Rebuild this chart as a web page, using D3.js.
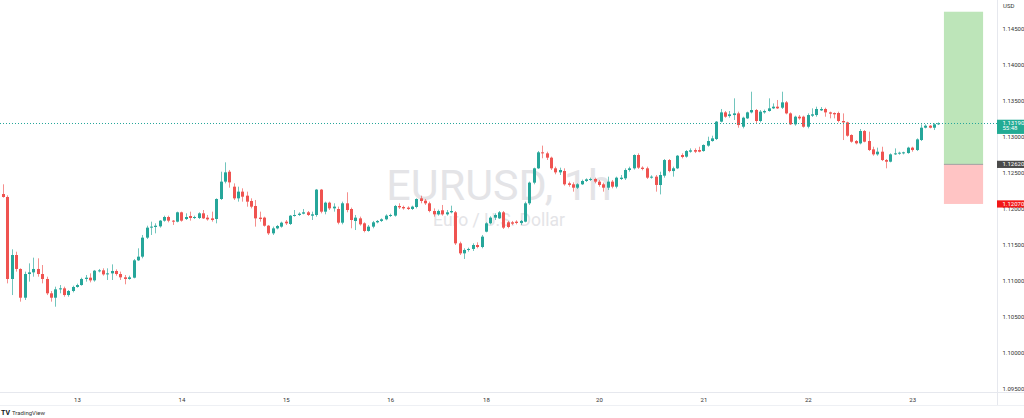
<!DOCTYPE html>
<html><head><meta charset="utf-8">
<script src="https://cdn.jsdelivr.net/npm/d3@7"></script>
<style>html,body{margin:0;padding:0;background:#fff;overflow:hidden}svg{display:block}text{font-family:Roboto,"Liberation Sans",Arial,sans-serif}</style>
</head><body><svg id="c" width="1024" height="418"></svg>
<script>
const opens=[1.12208,1.12167,1.11028,1.11361,1.11167,1.10768,1.11097,1.11120,1.11167,1.11097,
1.11028,1.10829,1.10768,1.10884,1.10898,1.10805,1.10861,1.10917,1.10944,1.11028,
1.11046,1.11009,1.11143,1.11148,1.11092,1.11106,1.11139,1.11097,1.11051,1.11028,
1.11046,1.11287,1.11338,1.11602,1.11741,1.11750,1.11759,1.11838,1.11889,1.11838,
1.11824,1.11954,1.11861,1.11903,1.11875,1.11875,1.11940,1.11880,1.11870,1.11861,
1.12139,1.12380,1.12518,1.12310,1.12148,1.12241,1.12185,1.12111,1.12042,1.11880,
1.11880,1.11768,1.11662,1.11731,1.11755,1.11824,1.11792,1.11903,1.11917,1.11935,
1.11954,1.11907,1.11917,1.12269,1.11963,1.12088,1.12009,1.12000,1.11810,1.12079,
1.12000,1.11833,1.11870,1.11801,1.11695,1.11755,1.11815,1.11834,1.11857,1.11908,
1.11908,1.12042,1.12028,1.12019,1.12000,1.12028,1.12148,1.12116,1.12079,1.11972,
1.11926,1.11982,1.11926,1.11954,1.11954,1.11523,1.11384,1.11431,1.11445,1.11500,
1.11472,1.11685,1.11801,1.11880,1.11870,1.11954,1.11815,1.11815,1.11824,1.11806,
1.11824,1.12079,1.12366,1.12565,1.12787,1.12773,1.12713,1.12565,1.12509,1.12528,
1.12357,1.12343,1.12296,1.12343,1.12389,1.12412,1.12417,1.12380,1.12343,1.12296,
1.12380,1.12310,1.12417,1.12426,1.12542,1.12565,1.12750,1.12574,1.12565,1.12435,
1.12449,1.12333,1.12463,1.12680,1.12527,1.12565,1.12750,1.12727,1.12796,1.12819,
1.12819,1.12805,1.12880,1.12944,1.12972,1.13213,1.13342,1.13291,1.13305,1.13328,
1.13143,1.13259,1.13342,1.13375,1.13222,1.13342,1.13361,1.13398,1.13421,1.13407,
1.13481,1.13328,1.13176,1.13282,1.13282,1.13143,1.13296,1.13305,1.13370,1.13389,
1.13342,1.13333,1.13333,1.13222,1.13203,1.13028,1.12944,1.12912,1.13083,1.12944,
1.12828,1.12759,1.12796,1.12680,1.12657,1.12759,1.12768,1.12773,1.12777,1.12852,
1.12819,1.12958,1.13129,1.13157,1.13129,1.13176];
const highs=[1.12343,1.12190,1.11440,1.11407,1.11176,1.11130,1.11245,1.11324,1.11315,1.11222,
1.11060,1.10861,1.10921,1.10944,1.10921,1.10875,1.10935,1.10963,1.11046,1.11083,
1.11106,1.11153,1.11167,1.11176,1.11176,1.11231,1.11162,1.11130,1.11083,1.11074,
1.11305,1.11454,1.11639,1.11768,1.11824,1.11801,1.11847,1.11907,1.11907,1.11847,
1.11963,1.11963,1.11940,1.11963,1.11907,1.11954,1.11986,1.11917,1.11963,1.12148,
1.12518,1.12648,1.12542,1.12356,1.12310,1.12287,1.12241,1.12148,1.12125,1.11963,
1.11893,1.11778,1.11755,1.11778,1.11824,1.11847,1.11917,1.11986,1.11954,1.12000,
1.11972,1.11963,1.12278,1.12278,1.12102,1.12102,1.12079,1.12033,1.12102,1.12232,
1.12019,1.11917,1.11894,1.11815,1.11778,1.11834,1.11847,1.11870,1.11926,1.11935,
1.12056,1.12079,1.12046,1.12037,1.12046,1.12148,1.12185,1.12139,1.12102,1.12009,
1.11991,1.12056,1.11986,1.12046,1.11972,1.11546,1.11454,1.11463,1.11523,1.11537,
1.11639,1.11815,1.11898,1.11940,1.11972,1.11972,1.11834,1.11834,1.11843,1.11847,
1.12102,1.12380,1.12574,1.12806,1.12880,1.12796,1.12727,1.12588,1.12574,1.12565,
1.12380,1.12370,1.12357,1.12408,1.12426,1.12435,1.12435,1.12403,1.12366,1.12449,
1.12403,1.12449,1.12472,1.12565,1.12588,1.12759,1.12773,1.12593,1.12588,1.12468,
1.12472,1.12518,1.12694,1.12694,1.12588,1.12750,1.12773,1.12819,1.12842,1.12842,
1.12865,1.12898,1.13004,1.13018,1.13222,1.13389,1.13361,1.13361,1.13537,1.13352,
1.13282,1.13352,1.13629,1.13389,1.13375,1.13380,1.13537,1.13467,1.13514,1.13629,
1.13500,1.13342,1.13296,1.13305,1.13296,1.13328,1.13398,1.13421,1.13416,1.13407,
1.13352,1.13342,1.13352,1.13328,1.13213,1.13037,1.12958,1.13111,1.13097,1.13074,
1.12865,1.12852,1.12865,1.12694,1.12773,1.12842,1.12796,1.12796,1.12865,1.12865,
1.12981,1.13176,1.13176,1.13166,1.13190,1.13203];
const lows=[1.12157,1.10967,1.10805,1.11130,1.10713,1.10736,1.10991,1.11060,1.11060,1.10967,
1.10805,1.10713,1.10643,1.10829,1.10782,1.10782,1.10842,1.10907,1.10935,1.10991,
1.10981,1.10991,1.11120,1.11074,1.11014,1.11014,1.11074,1.11014,1.10954,1.11018,
1.11037,1.11278,1.11315,1.11583,1.11639,1.11662,1.11741,1.11824,1.11815,1.11778,
1.11815,1.11824,1.11847,1.11838,1.11861,1.11861,1.11861,1.11838,1.11824,1.11801,
1.12125,1.12356,1.12296,1.12125,1.12102,1.12102,1.12032,1.12009,1.11755,1.11824,
1.11755,1.11639,1.11639,1.11718,1.11741,1.11778,1.11778,1.11893,1.11903,1.11926,
1.11903,1.11847,1.11893,1.11940,1.11926,1.11986,1.11963,1.11787,1.11787,1.11954,
1.11732,1.11708,1.11769,1.11676,1.11685,1.11732,1.11801,1.11820,1.11843,1.11889,
1.11894,1.12000,1.11991,1.11986,1.11986,1.12009,1.12079,1.12056,1.11954,1.11894,
1.11908,1.11908,1.11908,1.11940,1.11500,1.11361,1.11306,1.11408,1.11417,1.11454,
1.11454,1.11676,1.11787,1.11847,1.11861,1.11722,1.11732,1.11778,1.11787,1.11778,
1.11815,1.12056,1.12343,1.12556,1.12704,1.12681,1.12542,1.12482,1.12472,1.12324,
1.12310,1.12241,1.12278,1.12334,1.12375,1.12389,1.12357,1.12310,1.12241,1.12264,
1.12287,1.12287,1.12403,1.12403,1.12519,1.12547,1.12556,1.12537,1.12417,1.12421,
1.12241,1.12203,1.12435,1.12509,1.12449,1.12555,1.12703,1.12713,1.12782,1.12777,
1.12787,1.12796,1.12865,1.12935,1.12958,1.13203,1.13268,1.13268,1.13236,1.13129,
1.13120,1.13250,1.13328,1.13190,1.13203,1.13324,1.13352,1.13389,1.13389,1.13389,
1.13315,1.13166,1.13157,1.13240,1.13129,1.13120,1.13278,1.13282,1.13361,1.13282,
1.13259,1.13259,1.13203,1.12958,1.13004,1.12921,1.12898,1.12898,1.12926,1.12805,
1.12740,1.12740,1.12666,1.12565,1.12648,1.12750,1.12754,1.12759,1.12768,1.12796,
1.12805,1.12944,1.13120,1.13120,1.13097,1.13166];
const closes=[1.12167,1.11028,1.11361,1.11167,1.10768,1.11097,1.11120,1.11167,1.11097,1.11028,
1.10829,1.10768,1.10884,1.10898,1.10805,1.10861,1.10917,1.10944,1.11028,1.11046,
1.11009,1.11143,1.11148,1.11092,1.11106,1.11139,1.11097,1.11051,1.11028,1.11051,
1.11287,1.11338,1.11602,1.11741,1.11755,1.11768,1.11838,1.11889,1.11838,1.11824,
1.11954,1.11838,1.11889,1.11875,1.11889,1.11940,1.11870,1.11856,1.11847,1.12139,
1.12380,1.12509,1.12370,1.12148,1.12241,1.12171,1.12102,1.12032,1.11870,1.11861,
1.11768,1.11662,1.11731,1.11764,1.11810,1.11801,1.11907,1.11917,1.11935,1.11954,
1.11917,1.11926,1.12269,1.11963,1.12088,1.12009,1.12033,1.11810,1.12079,1.11986,
1.11847,1.11880,1.11787,1.11695,1.11755,1.11815,1.11834,1.11857,1.11908,1.11917,
1.12042,1.12023,1.12009,1.12000,1.12033,1.12139,1.12111,1.12079,1.11972,1.11926,
1.11972,1.11926,1.11954,1.11972,1.11523,1.11384,1.11431,1.11445,1.11500,1.11472,
1.11616,1.11801,1.11880,1.11917,1.11954,1.11741,1.11750,1.11796,1.11806,1.11834,
1.12079,1.12366,1.12565,1.12787,1.12773,1.12713,1.12565,1.12509,1.12542,1.12343,
1.12334,1.12296,1.12343,1.12389,1.12412,1.12417,1.12380,1.12334,1.12296,1.12380,
1.12310,1.12435,1.12435,1.12542,1.12565,1.12750,1.12574,1.12556,1.12435,1.12449,
1.12334,1.12472,1.12680,1.12527,1.12565,1.12740,1.12722,1.12805,1.12815,1.12796,
1.12796,1.12889,1.12944,1.12981,1.13213,1.13342,1.13282,1.13315,1.13328,1.13166,
1.13268,1.13342,1.13375,1.13222,1.13352,1.13361,1.13398,1.13421,1.13398,1.13481,
1.13328,1.13176,1.13282,1.13259,1.13143,1.13305,1.13315,1.13389,1.13389,1.13342,
1.13324,1.13315,1.13222,1.13203,1.13018,1.12935,1.12912,1.13083,1.12935,1.12819,
1.12759,1.12796,1.12680,1.12657,1.12759,1.12773,1.12782,1.12787,1.12852,1.12819,
1.12967,1.13129,1.13157,1.13129,1.13176,1.13190];
const dayLabels=["13","14","15","16","18","20","21","22","23"];
const dayIndex=[17,41,65,89,111,137,161,185,209];
const priceTicks=[1.145,1.14,1.135,1.13,1.125,1.12,1.115,1.11,1.105,1.10,1.095];
const lastPrice=1.1319, countdown="55:48";
const entryPrice=1.1262, targetPrice=1.1474, stopPrice=1.1207;
const positionFrom=216.3, positionTo=225.3;
const symbolTitle="EURUSD, 1h", symbolDesc="Euro / U.S. Dollar", currency="USD";

const W=1024,H=418,plotR=997,plotB=392;
const UP="#26a69a",DN="#ef5350";
const svg=d3.select("#c");
svg.append("rect").attr("width",W).attr("height",H).attr("fill","#fff");
const x=d3.scaleLinear().domain([-0.7,228.5]).range([0,plotR]);
const y=d3.scaleLinear().domain([1.094444,1.149028]).range([393,0]);
const fmt=d3.format(".5f");

// watermark
svg.append("text").attr("x",499).attr("y",200).attr("text-anchor","middle")
  .attr("font-size",43).attr("fill","#e4e4e7").text(symbolTitle);
svg.append("text").attr("x",499).attr("y",225.5).attr("text-anchor","middle")
  .attr("font-size",17.5).attr("fill","#e4e4e7").text(symbolDesc);

const data=opens.map((o,i)=>({i,o,h:highs[i],l:lows[i],c:closes[i]}));
const g=svg.append("g");
g.selectAll("line.w").data(data).join("line").attr("class","w")
  .attr("x1",d=>Math.round(x(d.i))+0.5).attr("x2",d=>Math.round(x(d.i))+0.5)
  .attr("y1",d=>y(d.h)).attr("y2",d=>y(d.l))
  .attr("stroke",d=>d.c>=d.o?UP:DN).attr("stroke-opacity",0.65).attr("stroke-width",1);
g.selectAll("rect.b").data(data).join("rect").attr("class","b")
  .attr("x",d=>Math.round(x(d.i))-1).attr("width",3)
  .attr("y",d=>y(Math.max(d.o,d.c)))
  .attr("height",d=>Math.max(1,Math.abs(y(d.o)-y(d.c))))
  .attr("fill",d=>d.c>=d.o?UP:DN);

// position tool
svg.append("rect").attr("x",x(positionFrom)).attr("width",x(positionTo)-x(positionFrom))
  .attr("y",y(targetPrice)).attr("height",y(entryPrice)-y(targetPrice)).attr("fill","#bde5b9");
svg.append("rect").attr("x",x(positionFrom)).attr("width",x(positionTo)-x(positionFrom))
  .attr("y",y(entryPrice)).attr("height",y(stopPrice)-y(entryPrice)).attr("fill","#ffc4c4");
svg.append("line").attr("x1",x(positionFrom)).attr("x2",x(positionTo))
  .attr("y1",y(entryPrice)).attr("y2",y(entryPrice)).attr("stroke","#a0a0a0").attr("stroke-width",1);

// last price line
svg.append("line").attr("x1",0).attr("x2",plotR).attr("y1",Math.round(y(lastPrice))+0.5).attr("y2",Math.round(y(lastPrice))+0.5)
  .attr("stroke",UP).attr("stroke-width",1).attr("stroke-dasharray","1,2");

// frame lines
svg.append("line").attr("x1",0).attr("x2",W).attr("y1",plotB+0.5).attr("y2",plotB+0.5).attr("stroke","#e6e8ee");
svg.append("line").attr("x1",0).attr("x2",W).attr("y1",405.5).attr("y2",405.5).attr("stroke","#eef0f4");
svg.append("line").attr("x1",plotR+0.5).attr("x2",plotR+0.5).attr("y1",0).attr("y2",405).attr("stroke","#e6e8ee");

// right axis
const ra=svg.append("g").attr("transform",`translate(${plotR},0)`)
  .call(d3.axisRight(y).tickValues(priceTicks).tickFormat(fmt).tickSize(0).tickPadding(5.5));
ra.select(".domain").remove();
ra.selectAll("text").attr("font-size",6).attr("fill","#333").attr("font-family","Roboto,'Liberation Sans',sans-serif");
svg.append("text").attr("x",1003).attr("y",8).attr("font-size",6).attr("fill","#333").text(currency);

// bottom axis
const ba=svg.append("g").attr("transform",`translate(0,${plotB})`)
  .call(d3.axisBottom(x).tickValues(dayIndex).tickFormat((d,k)=>dayLabels[k]).tickSize(0).tickPadding(5.5));
ba.select(".domain").remove();
ba.selectAll("text").attr("font-size",6).attr("fill","#333").attr("font-family","Roboto,'Liberation Sans',sans-serif");

// price labels on axis
function tag(price,y0,h,fill,lines,txtFill){
  svg.append("rect").attr("x",plotR).attr("y",y0).attr("width",W-plotR).attr("height",h).attr("fill",fill);
  lines.forEach((t,k)=>svg.append("text").attr("x",1002.5).attr("y",y0+3.6+k*5.2+(lines.length===1?0:0.2))
    .attr("dominant-baseline","middle").attr("font-size",6).attr("fill",txtFill).text(t));
}
const ly=y(lastPrice);
tag(lastPrice,ly-3.6,14.2,"#22ab94",[fmt(lastPrice),countdown],"#fff");
tag(entryPrice,y(entryPrice)-3.6,7.2,"#4a4a4a",[fmt(entryPrice)],"#fff");
tag(stopPrice,y(stopPrice)-3.6,7.2,"#f21818",[fmt(stopPrice)],"#fff");

// logo
svg.append("text").attr("x",1).attr("y",415).attr("font-size",7).attr("font-weight","bold").attr("fill","#131722").text("TV");
svg.append("text").attr("x",12).attr("y",415).attr("font-size",6).attr("fill","#333").text("TradingView");
</script></body></html>
